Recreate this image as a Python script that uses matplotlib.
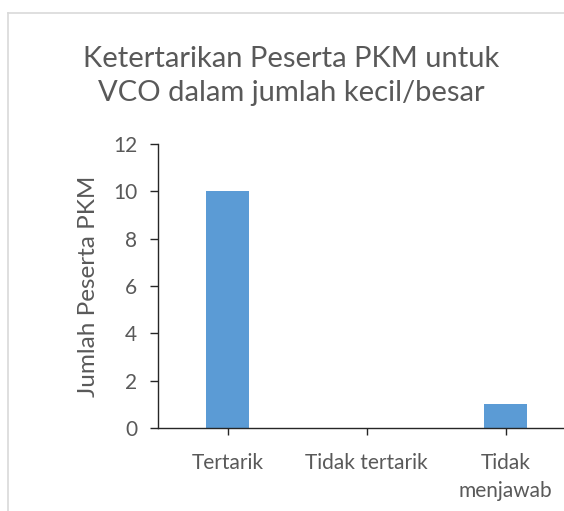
import matplotlib
matplotlib.use("Agg")
import matplotlib.pyplot as plt
from matplotlib.lines import Line2D

categories = ["Tertarik", "Tidak tertarik", "Tidak\nmenjawab"]
values = [10, 0, 1]
yticks = [0, 2, 4, 6, 8, 10, 12]
title = "Ketertarikan Peserta PKM untuk\nVCO dalam jumlah kecil/besar"
ylabel = "Jumlah Peserta PKM"

plt.rcParams['font.family'] = ['Lato', 'DejaVu Sans']
text_color = '#595959'

fig = plt.figure(figsize=(5.64, 5.11), dpi=100)
ax = fig.add_axes([158/564, 83/511, 417/564, 284/511])

x = list(range(len(categories)))
ax.bar(x, values, width=0.31, color='#5b9bd5', zorder=2)
ax.set_xlim(-0.5, 2.5)
ax.set_ylim(0, 12)
ax.set_yticks(yticks)
ax.set_xticks(x)
ax.set_xticklabels(categories, fontsize=15, color=text_color, linespacing=1.5)
ax.tick_params(axis='y', labelsize=15, labelcolor=text_color, length=6, width=1.0, pad=9, color='#262626')
ax.tick_params(axis='x', length=5, width=1.0, pad=13, color='#262626')
for s in ['top', 'right']:
    ax.spines[s].set_visible(False)
for s in ['left', 'bottom']:
    ax.spines[s].set_color('#262626')
    ax.spines[s].set_linewidth(1.0)
ax.set_ylabel(ylabel, fontsize=17.5, color=text_color, labelpad=10)

fig.text(291/564, 1 - 76/511, title, ha='center', va='center', fontsize=21,
         color=text_color, linespacing=1.35)

fig.add_artist(Line2D([8/564, 1], [1 - 13/511, 1 - 13/511], transform=fig.transFigure, color='#d9d9d9', lw=1.2))
fig.add_artist(Line2D([8/564, 8/564], [0, 1 - 13/511], transform=fig.transFigure, color='#d9d9d9', lw=1.2))

fig.savefig("out.png", dpi=100)
